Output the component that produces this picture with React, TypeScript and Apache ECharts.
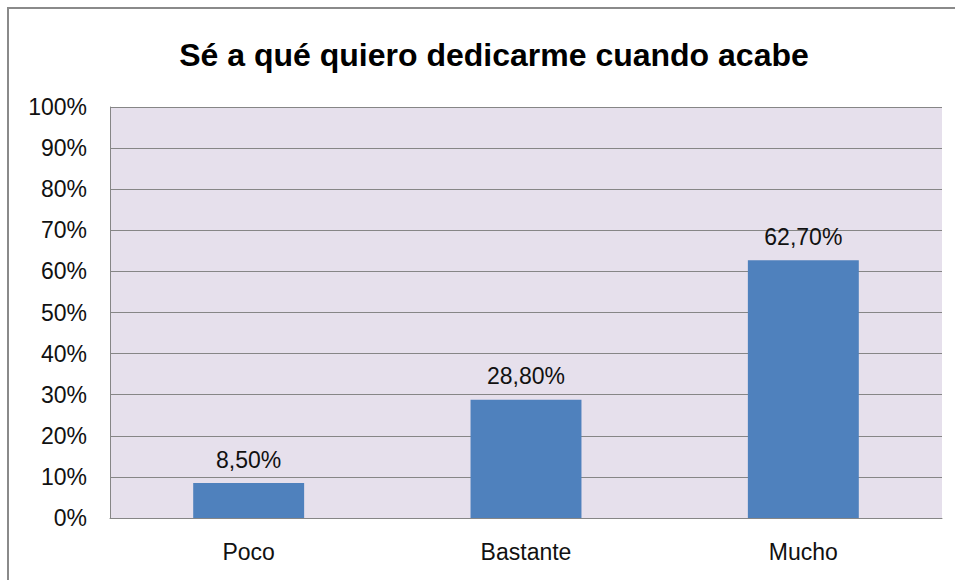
import React, { useEffect, useRef } from "react";
import * as echarts from "echarts";

const titleText = "Sé a qué quiero dedicarme cuando acabe";
const categories = ["Poco", "Bastante", "Mucho"];
const values = [8.5, 28.8, 62.7];

export default function App() {
  const ref = useRef<HTMLDivElement>(null);
  useEffect(() => {
    if (!ref.current) return;
    const chart = echarts.init(ref.current, null, { renderer: "svg" });
    chart.setOption({
      animation: false,
      backgroundColor: "#ffffff",
      title: {
        text: titleText,
        left: 489,
        textAlign: "center",
        top: 34,
        textStyle: {
          fontFamily: "Liberation Sans",
          fontWeight: "bold",
          fontSize: 32,
          color: "#000000",
        },
      },
      graphic: [
        {
          type: "rect",
          shape: { x: 8, y: 8, width: 1000, height: 700 },
          style: { fill: "none", stroke: "#8a8a8a", lineWidth: 2 },
          silent: true,
        },
      ],
      grid: {
        left: 110,
        right: 13,
        top: 107,
        bottom: 62,
        show: true,
        backgroundColor: "#e6e0ec",
        borderWidth: 0,
      },
      xAxis: {
        type: "category",
        data: categories,
        axisLine: { show: true, lineStyle: { color: "#868686", width: 1 } },
        axisTick: { show: false },
        axisLabel: {
          fontFamily: "Liberation Sans",
          fontSize: 23,
          color: "#111111",
          margin: 22,
        },
      },
      yAxis: {
        type: "value",
        min: 0,
        max: 100,
        interval: 10,
        axisLine: { show: true, lineStyle: { color: "#868686", width: 1 } },
        axisTick: { show: false },
        splitLine: { show: true, lineStyle: { color: "#868686", width: 1 } },
        axisLabel: {
          fontFamily: "Liberation Sans",
          fontSize: 23,
          color: "#111111",
          margin: 23,
          formatter: (v: number) => v + "%",
        },
      },
      series: [
        {
          type: "bar",
          data: values,
          barWidth: "40%",
          itemStyle: { color: "#4f81bd" },
          label: {
            show: true,
            position: "top",
            distance: 12,
            fontFamily: "Liberation Sans",
            fontSize: 23,
            color: "#111111",
            formatter: (p: any) => p.value.toFixed(2).replace(".", ",") + "%",
          },
        },
      ],
    });
    return () => chart.dispose();
  }, []);
  return (
    <div
      ref={ref}
      style={{ position: "fixed", left: 0, top: 0, width: 955, height: 580 }}
    />
  );
}
